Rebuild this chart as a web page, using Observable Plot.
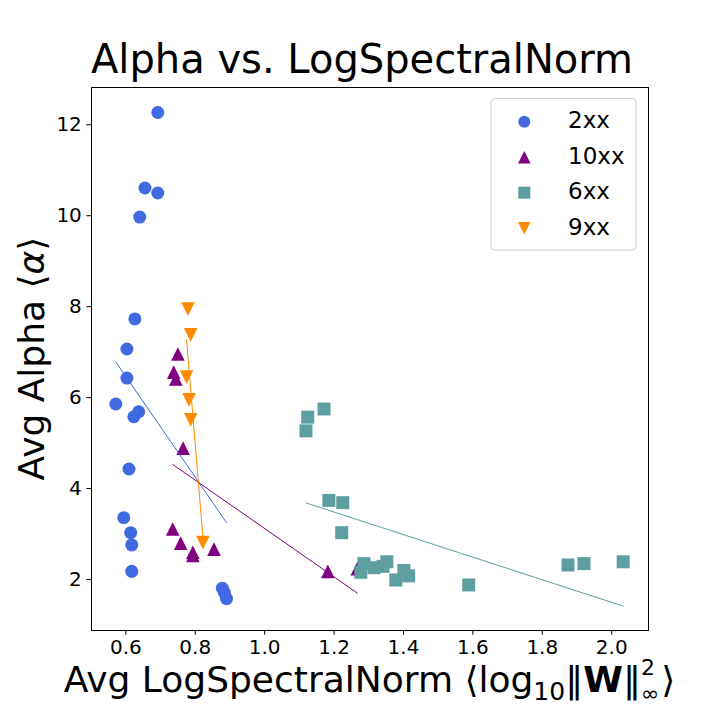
<!DOCTYPE html>
<html><head><meta charset="utf-8">
<script src="https://cdn.jsdelivr.net/npm/d3@7"></script>
<script src="https://cdn.jsdelivr.net/npm/@observablehq/plot@0.6"></script>
<style>
body{margin:0;background:#fff;font-family:"DejaVu Sans";}
#wrap{width:720px;}
#title{position:relative;height:80px;}
#title div{position:absolute;left:62px;width:600px;top:39px;text-align:center;font-size:40px;line-height:1;white-space:nowrap;color:#000;}
</style></head><body>
<div id="wrap"><div id="title"><div>Alpha vs. LogSpectralNorm</div></div><div id="chart"></div></div>
<script>
const groups = ["2xx", "10xx", "6xx", "9xx"];
const colors = ["#4169E1", "#800080", "#5F9EA0", "#FF8C00"];

const x2xx = [0.692, 0.655, 0.692, 0.640, 0.626, 0.603, 0.603, 0.571, 0.623, 0.637, 0.609, 0.594, 0.614, 0.617, 0.617, 0.878, 0.884, 0.890];
const y2xx = [12.27, 10.61, 10.50, 9.97, 7.73, 7.07, 6.43, 5.86, 5.58, 5.69, 4.43, 3.36, 3.03, 2.76, 2.18, 1.81, 1.71, 1.58];

const x10xx = [0.750, 0.738, 0.744, 0.765, 0.735, 0.758, 0.793, 0.793, 0.854, 1.182, 1.267];
const y10xx = [6.96, 6.56, 6.41, 4.89, 3.11, 2.80, 2.60, 2.53, 2.67, 2.18, 2.24];

const x6xx = [1.124, 1.171, 1.119, 1.185, 1.225, 1.222, 1.286, 1.277, 1.315, 1.341, 1.352, 1.401, 1.415, 1.378, 1.588, 1.874, 1.920, 2.033];
const y6xx = [5.57, 5.75, 5.27, 3.74, 3.69, 3.03, 2.35, 2.16, 2.26, 2.29, 2.39, 2.20, 2.08, 1.99, 1.88, 2.32, 2.35, 2.39];

const x9xx = [0.779, 0.787, 0.775, 0.782, 0.787, 0.822];
const y9xx = [7.95, 7.38, 6.45, 5.95, 5.51, 2.81];

const xTicks = [0.6, 0.8, 1.0, 1.2, 1.4, 1.6, 1.8, 2.0];
const yTicks = [2, 4, 6, 8, 10, 12];
const xDomain = [0.501, 2.106];
const yDomain = [0.879, 12.82];

// marker shapes (matplotlib o, ^, s, v)
const symCircle = {draw(c, s) { const r = Math.sqrt(s / Math.PI); c.moveTo(r, 0); c.arc(0, 0, r, 0, 2 * Math.PI); }};
const symTriUp = {draw(c, s) { const r = Math.sqrt(s / Math.PI) * 1.05; c.moveTo(0, -r); c.lineTo(r, r); c.lineTo(-r, r); c.closePath(); }};
const symSquare = {draw(c, s) { const r = Math.sqrt(s / Math.PI); c.rect(-r, -r, 2 * r, 2 * r); }};
const symTriDown = {draw(c, s) { const r = Math.sqrt(s / Math.PI) * 1.05; c.moveTo(0, r); c.lineTo(r, -r); c.lineTo(-r, -r); c.closePath(); }};
const symbols = [symCircle, symTriUp, symSquare, symTriDown];

const series = [[x2xx, y2xx], [x10xx, y10xx], [x6xx, y6xx], [x9xx, y9xx]].map(([xs, ys], gi) =>
  xs.map((x, i) => ({group: groups[gi], x, y: ys[i]})));

const dotMarks = series.map((d, gi) => Plot.dot(d, {x: "x", y: "y", fill: colors[gi], stroke: "none", r: 6.5, symbol: symbols[gi]}));
const lineMarks = series.map((d, gi) => Plot.linearRegressionY(d, {x: "x", y: "y", stroke: colors[gi], strokeWidth: 1, ci: 0}));

const H = 640, MT = 7, MB = 90, ML = 91, MR = 72;
const svg = Plot.plot({
  width: 720, height: H,
  marginTop: MT, marginBottom: MB, marginLeft: ML, marginRight: MR,
  style: {fontFamily: "DejaVu Sans", fontSize: "20px", color: "black", background: "white", overflow: "visible"},
  x: {domain: xDomain},
  y: {domain: yDomain},
  marks: [
    Plot.axisX({ticks: xTicks, tickFormat: d3.format(".1f"), label: null, tickSize: 4.67, tickPadding: 4.5, fontSize: 20, stroke: "black", fill: "black"}),
    Plot.axisY({ticks: yTicks, tickFormat: d => String(d), label: null, tickSize: 4.67, tickPadding: 5, fontSize: 20, stroke: "black", fill: "black"}),
    ...dotMarks,
    ...lineMarks,
    Plot.frame({stroke: "black", strokeWidth: 1})
  ]
});
document.getElementById("chart").appendChild(svg);

const s = d3.select(svg);
const plotCx = ML + (720 - ML - MR) / 2;
const plotCy = MT + (H - MT - MB) / 2;

// y label
const yl = s.append("text")
  .attr("transform", `translate(44,${plotCy}) rotate(-90)`)
  .attr("text-anchor", "middle")
  .attr("font-family", "DejaVu Sans").attr("font-size", 36).attr("fill", "black");
yl.append("tspan").text("Avg Alpha \u27E8");
yl.append("tspan").attr("font-style", "italic").text("\u03B1");
yl.append("tspan").text("\u27E9");

// x label with math parts
const xg = s.append("g").attr("font-family", "DejaVu Sans").attr("fill", "black").attr("text-anchor", "start");
const base = 612;
let cx = 0;
function piece(str, size, dy, opts = {}) {
  const t = xg.append("text").attr("x", cx).attr("y", base + dy).attr("font-size", size).attr("text-anchor", "start").text(str);
  if (opts.bold) t.attr("font-weight", "bold");
  const w = t.node().getComputedTextLength();
  if (!opts.noAdvance) cx += w;
  return w;
}
piece("Avg LogSpectralNorm \u27E8log", 36, 0);
piece("10", 25, 8);
piece("\u2016", 36, 0);
piece("W", 36, 0, {bold: true});
piece("\u2016", 36, 0);
const w2 = piece("2", 22, -17, {noAdvance: true});
const wi = piece("\u221E", 22, 9, {noAdvance: true});
cx += Math.max(w2, wi) + 2;
piece("\u27E9", 36, 0);
xg.attr("transform", `translate(${plotCx - cx / 2},0)`);

// legend
const lg = s.append("g").attr("text-anchor", "start");
lg.append("rect").attr("x", 491).attr("y", 18.5).attr("width", 145).attr("height", 151.5).attr("rx", 4)
  .attr("fill", "white").attr("fill-opacity", 0.8).attr("stroke", "#cccccc").attr("stroke-width", 1);
groups.forEach((g, i) => {
  const yy = 41.7 + i * 35.5;
  lg.append("path").attr("transform", `translate(524.3,${yy})`)
    .attr("d", d3.symbol(symbols[i], 6 * 6 * Math.PI)()).attr("fill", colors[i]);
  lg.append("text").attr("x", 568).attr("y", yy + 6.5).attr("font-family", "DejaVu Sans").attr("font-size", 23)
    .attr("text-anchor", "start").attr("fill", "black").text(g);
});
</script>
</body></html>
